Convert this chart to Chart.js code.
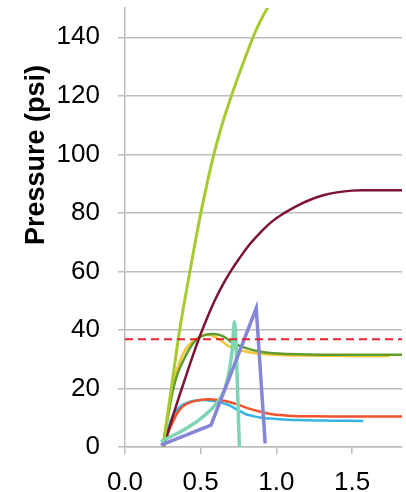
<!DOCTYPE html>
<html><head><meta charset="utf-8">
<script src="https://cdn.jsdelivr.net/npm/chart.js"></script>
<style>html,body{margin:0;padding:0;background:#fff}</style>
</head><body>
<canvas id="c" width="406" height="492"></canvas>
<script>
const xTicks = [0, 0.5, 1.0, 1.5];
const yTicks = [0, 20, 40, 60, 80, 100, 120, 140];
const yTitle = 'Pressure (psi)';
const limitPsi = 36.8;
const limitT = [0, 1.83];

const limeT = [0.252, 0.279, 0.306, 0.333, 0.361, 0.394, 0.429, 0.464, 0.501, 0.542, 0.587, 0.640, 0.703, 0.772, 0.846, 0.889, 0.941, 0.99];
const limeP = [0, 10, 20, 30, 40, 50, 60, 70, 80, 90, 100, 110, 120, 130, 140, 145, 150, 154];

const maroonT = [0.255, 0.30, 0.35, 0.40, 0.45, 0.50, 0.55, 0.60, 0.65, 0.70, 0.756, 0.82, 0.889, 0.97, 1.054, 1.14, 1.22, 1.31, 1.4, 1.5, 1.6, 1.83];
const maroonP = [0, 7.8, 16, 23.8, 31.5, 38.6, 45, 50.8, 55.8, 60.2, 64.5, 69, 73, 77, 80, 82.5, 84.4, 86, 87, 87.6, 87.7, 87.7];

const greenT = [0.248, 0.265, 0.29, 0.315, 0.347, 0.38, 0.42, 0.47, 0.53, 0.59, 0.65, 0.712, 0.8, 0.889, 0.98, 1.065, 1.2, 1.4, 1.6, 1.83];
const greenP = [0, 5, 12, 19, 25, 29, 33, 36.6, 38.3, 38.6, 37.8, 35.6, 33.8, 32.6, 32, 31.8, 31.6, 31.5, 31.5, 31.5];

const yellowT = [0.25, 0.265, 0.29, 0.325, 0.36, 0.402, 0.446, 0.5, 0.546, 0.6, 0.65, 0.69, 0.78, 0.867, 0.96, 1.1, 1.286, 1.5, 1.75];
const yellowP = [0, 6, 14, 23, 29, 33.5, 36, 37.8, 38.4, 37.5, 35.8, 34.3, 32.8, 32, 31.6, 31.3, 31.2, 31.1, 31.1];

const redT = [0.255, 0.27, 0.292, 0.325, 0.358, 0.4, 0.446, 0.5, 0.55, 0.62, 0.69, 0.76, 0.82, 0.889, 0.96, 1.03, 1.11, 1.25, 1.5, 1.83];
const redP = [0, 2.5, 5.8, 9.5, 12.6, 14.5, 15.5, 16.1, 16.3, 16, 15.4, 14.2, 13.1, 12.1, 11.3, 10.9, 10.6, 10.5, 10.4, 10.4];

const blueT = [0.255, 0.27, 0.29, 0.314, 0.345, 0.38, 0.43, 0.49, 0.54, 0.6, 0.65, 0.69, 0.74, 0.80, 0.844, 0.9, 0.96, 1.02, 1.15, 1.35, 1.574];
const blueP = [0, 3.5, 7, 10.4, 12.8, 14.4, 15.5, 16.0, 16.0, 15.6, 14.9, 14.2, 12.8, 11.2, 10.6, 10.0, 9.7, 9.5, 9.2, 9.0, 8.9];

const tealT = [0.237, 0.3, 0.38, 0.44, 0.49, 0.54, 0.58, 0.615, 0.645, 0.668, 0.69, 0.708, 0.723, 0.756];
const tealP = [1.8, 3.5, 5.6, 7.5, 9.3, 11.4, 13.4, 15.6, 18.2, 21.3, 26.5, 33, 42.8, 0];

const purpleT = [0.237, 0.568, 0.867, 0.926];
const purpleP = [0.6, 7.5, 47.4, 1.2];

const pts = (t, p) => t.map((v, i) => ({x: v, y: p[i]}));
const FONT = '"Liberation Sans", Arial, Helvetica, sans-serif';
const GRID = '#bdbdbd';

function ds(t, p, color, w, extra) {
  return Object.assign({
    data: pts(t, p), borderColor: color, backgroundColor: color,
    borderWidth: w, pointRadius: 0, fill: false, tension: 0.4
  }, extra || {});
}

const titlePlugin = {
  id: 'ytitle',
  afterDraw(chart) {
    const ctx = chart.ctx;
    ctx.save();
    ctx.translate(43.5, 155);
    ctx.rotate(-Math.PI / 2);
    ctx.font = 'bold 27px ' + FONT;
    ctx.fillStyle = '#000';
    ctx.textAlign = 'center';
    ctx.textBaseline = 'alphabetic';
    ctx.fillText(yTitle, 0, 0);
    ctx.restore();
  }
};

new Chart(document.getElementById('c'), {
  type: 'line',
  data: {
    datasets: [
      ds(limitT, limitT.map(() => limitPsi), '#e8202e', 2, {borderDash: [8, 5], tension: 0}),
      ds(purpleT, purpleP, '#8686d6', 3.5, {tension: 0}),
      ds(tealT, tealP, '#7fd5b3', 3.5, {cubicInterpolationMode: 'monotone'}),
      ds(limeT, limeP, '#a8c92f', 3),
      ds(maroonT, maroonP, '#7d1333', 2.5),
      ds(redT, redP, '#f2522c', 2.5),
      ds(blueT, blueP, '#35b5e6', 2.5),
      ds(greenT, greenP, '#5f9d2c', 2.5),
      ds(yellowT, yellowP, '#f5c534', 2.5)
    ]
  },
  options: {
    responsive: false,
    animation: false,
    layout: {padding: {top: 8, right: 4, left: 0, bottom: 0}},
    plugins: {legend: {display: false}, tooltip: {enabled: false}},
    scales: {
      x: {
        type: 'linear', min: 0, max: 1.83,
        afterBuildTicks: s => { s.ticks = xTicks.map(v => ({value: v})); },
        afterFit: s => { s.height = 45; s.paddingLeft = 0; s.paddingRight = 0; },
        ticks: {callback: v => Number(v).toFixed(1), font: {size: 26, family: FONT}, color: '#000', padding: 13, maxRotation: 0, autoSkip: false},
        grid: {drawOnChartArea: false, color: GRID, lineWidth: 1.5, tickLength: 7},
        border: {color: GRID, width: 1.5}
      },
      y: {
        type: 'linear', min: 0, max: 150,
        afterBuildTicks: s => { s.ticks = yTicks.map(v => ({value: v})); },
        afterFit: s => { s.width = 125; s.paddingTop = 0; s.paddingBottom = 0; },
        ticks: {font: {size: 26, family: FONT}, color: '#000', padding: 18},
        grid: {color: GRID, lineWidth: 1.5, tickLength: 7},
        border: {color: GRID, width: 1.5}
      }
    }
  },
  plugins: [titlePlugin]
});
</script>
</body></html>
